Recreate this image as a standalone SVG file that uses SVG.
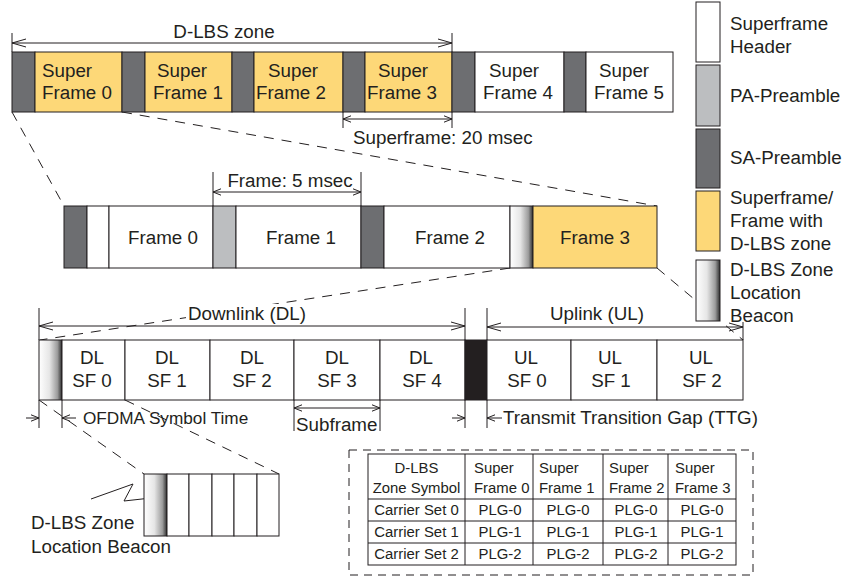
<svg xmlns="http://www.w3.org/2000/svg" width="846" height="579" viewBox="0 0 846 579">
<defs>
<linearGradient id="beacon" x1="0" y1="0" x2="1" y2="0">
<stop offset="0" stop-color="#ffffff"/>
<stop offset="0.45" stop-color="#e6e6e6"/>
<stop offset="0.8" stop-color="#9c9c9c"/>
<stop offset="1" stop-color="#2e2e2e"/>
</linearGradient>
<marker id="ah" markerWidth="16" markerHeight="10" refX="15" refY="5" orient="auto-start-reverse" markerUnits="userSpaceOnUse"><path d="M1,1 L15,5 L1,9" fill="none" stroke="#231F20" stroke-width="1"/></marker>
<marker id="as" markerWidth="10" markerHeight="8" refX="9" refY="4" orient="auto-start-reverse" markerUnits="userSpaceOnUse"><path d="M1,0.8 L9,4 L1,7.2" fill="none" stroke="#231F20" stroke-width="1"/></marker>
</defs>
<style>
.t{font-family:"Liberation Sans",Arial,Helvetica,sans-serif;font-size:18.8px;fill:#231F20}
.c{text-anchor:middle}
.tb{font-size:14.9px}
.s{stroke:#231F20;stroke-width:1}
.y{fill:#FDD878}
.d{fill:#6D6E71}
.g{fill:#BCBEC0}
.w{fill:#ffffff}
.k{fill:#231F20}
.b{fill:url(#beacon)}
.dash{stroke:#231F20;stroke-width:1;stroke-dasharray:10 8;fill:none}
.ln{stroke:#231F20;stroke-width:1;fill:none}
.big{marker-start:url(#ah);marker-end:url(#ah)}
.sm2{marker-start:url(#as);marker-end:url(#as)}
.sme{marker-end:url(#as)}
.box{fill:none;stroke:#231F20;stroke-width:1;stroke-dasharray:8 6}
</style>

<g id="connectors">
<line class="dash" x1="12" y1="112" x2="64" y2="206"/>
<line class="dash" x1="122" y1="112" x2="657" y2="206"/>
<line class="dash" x1="510" y1="268" x2="40" y2="340"/>
<line class="dash" x1="657" y1="268" x2="743" y2="340"/>
<line class="dash" x1="39" y1="400" x2="144" y2="474"/>
<line class="dash" x1="125" y1="400" x2="279" y2="474"/>
<polyline class="ln" points="91,499 133,484 124,501 160,497"/>
</g>

<g id="dimensions">
<line class="ln" x1="12" y1="33" x2="12" y2="52"/>
<line class="ln" x1="452" y1="33" x2="452" y2="52"/>
<line class="ln big" x1="12" y1="43" x2="452" y2="43"/>
<text class="t c" x="224" y="38">D-LBS zone</text>
<line class="ln" x1="343" y1="112" x2="343" y2="128"/>
<line class="ln" x1="452" y1="112" x2="452" y2="128"/>
<line class="ln sm2" x1="343" y1="119" x2="452" y2="119"/>
<text class="t" x="353" y="144">Superframe: 20 msec</text>
<line class="ln" x1="213" y1="172" x2="213" y2="206"/>
<line class="ln" x1="361" y1="172" x2="361" y2="206"/>
<line class="ln sm2" x1="213" y1="192" x2="361" y2="192"/>
<text class="t c" x="290" y="187">Frame: 5 msec</text>
<line class="ln" x1="39" y1="308" x2="39" y2="340"/>
<line class="ln" x1="465" y1="308" x2="465" y2="340"/>
<rect x="186" y="304" width="122" height="20" fill="#ffffff"/>
<line class="ln big" x1="39" y1="326" x2="465" y2="326"/>
<text class="t c" x="247" y="320">Downlink (DL)</text>
<line class="ln" x1="487" y1="308" x2="487" y2="340"/>
<line class="ln" x1="743" y1="322" x2="743" y2="340"/>
<line class="ln big" x1="487" y1="327" x2="743" y2="327"/>
<text class="t c" x="597" y="320">Uplink (UL)</text>
<line class="ln" x1="39" y1="400" x2="39" y2="428"/>
<line class="ln" x1="62" y1="400" x2="62" y2="428"/>
<line class="ln sme" x1="26" y1="418" x2="39" y2="418"/>
<line class="ln sme" x1="76" y1="418" x2="62" y2="418"/>
<text class="t" x="83" y="424" style="font-size:17.2px">OFDMA Symbol Time</text>
<line class="ln" x1="294" y1="400" x2="294" y2="431"/>
<line class="ln" x1="380" y1="400" x2="380" y2="431"/>
<line class="ln sm2" x1="294" y1="408" x2="380" y2="408"/>
<text class="t" x="296" y="431">Subframe</text>
<line class="ln" x1="465" y1="400" x2="465" y2="428"/>
<line class="ln" x1="487" y1="400" x2="487" y2="428"/>
<line class="ln sme" x1="452" y1="418" x2="465" y2="418"/>
<line class="ln sme" x1="502" y1="418" x2="487" y2="418"/>
<text class="t" x="503" y="424">Transmit Transition Gap (TTG)</text>
</g>

<g id="superframe-row">
<rect class="s d" x="12" y="52" width="23" height="60"/>
<rect class="s y" x="35" y="52" width="87" height="60"/>
<rect class="s d" x="122" y="52" width="23" height="60"/>
<rect class="s y" x="145" y="52" width="87" height="60"/>
<rect class="s d" x="232" y="52" width="22" height="60"/>
<rect class="s y" x="254" y="52" width="89" height="60"/>
<rect class="s d" x="343" y="52" width="22" height="60"/>
<rect class="s y" x="365" y="52" width="87" height="60"/>
<rect class="s d" x="452" y="52" width="23" height="60"/>
<rect class="s w" x="475" y="52" width="89" height="60"/>
<rect class="s d" x="564" y="52" width="22" height="60"/>
<rect class="s w" x="586" y="52" width="87" height="60"/>
<text class="t" x="42" y="77">Super</text><text class="t" x="42" y="99">Frame 0</text>
<text class="t" x="157" y="77">Super</text><text class="t" x="153" y="99">Frame 1</text>
<text class="t" x="268" y="77">Super</text><text class="t" x="256" y="99">Frame 2</text>
<text class="t" x="378" y="77">Super</text><text class="t" x="367" y="99">Frame 3</text>
<text class="t" x="489" y="77">Super</text><text class="t" x="483" y="99">Frame 4</text>
<text class="t" x="599" y="77">Super</text><text class="t" x="594" y="99">Frame 5</text>
</g>

<g id="frame-row">
<rect class="s d" x="64" y="206" width="23" height="62"/>
<rect class="s w" x="87" y="206" width="22" height="62"/>
<rect class="s w" x="109" y="206" width="104" height="62"/>
<rect class="s g" x="213" y="206" width="23" height="62"/>
<rect class="s w" x="236" y="206" width="125" height="62"/>
<rect class="s d" x="361" y="206" width="23" height="62"/>
<rect class="s w" x="384" y="206" width="126" height="62"/>
<rect class="s b" x="510" y="206" width="23" height="62"/>
<rect class="s y" x="533" y="206" width="124" height="62"/>
<text class="t c" x="163" y="244">Frame 0</text>
<text class="t c" x="301" y="244">Frame 1</text>
<text class="t c" x="450" y="244">Frame 2</text>
<text class="t c" x="595" y="244">Frame 3</text>
</g>

<g id="subframe-row">
<rect class="s b" x="39" y="340" width="23" height="60"/>
<rect class="s w" x="62" y="340" width="63" height="60"/>
<rect class="s w" x="125" y="340" width="85" height="60"/>
<rect class="s w" x="210" y="340" width="84" height="60"/>
<rect class="s w" x="294" y="340" width="86" height="60"/>
<rect class="s w" x="380" y="340" width="85" height="60"/>
<rect class="s k" x="465" y="340" width="22" height="60"/>
<rect class="s w" x="487" y="340" width="84" height="60"/>
<rect class="s w" x="571" y="340" width="86" height="60"/>
<rect class="s w" x="657" y="340" width="86" height="60"/>
<text class="t c" x="92" y="364">DL</text><text class="t c" x="92" y="387">SF 0</text>
<text class="t c" x="167" y="364">DL</text><text class="t c" x="167" y="387">SF 1</text>
<text class="t c" x="252" y="364">DL</text><text class="t c" x="252" y="387">SF 2</text>
<text class="t c" x="337" y="364">DL</text><text class="t c" x="337" y="387">SF 3</text>
<text class="t c" x="421" y="364">DL</text><text class="t c" x="422" y="387">SF 4</text>
<text class="t c" x="526" y="364">UL</text><text class="t c" x="527" y="387">SF 0</text>
<text class="t c" x="610" y="364">UL</text><text class="t c" x="611" y="387">SF 1</text>
<text class="t c" x="701" y="364">UL</text><text class="t c" x="702" y="387">SF 2</text>
</g>

<g id="symbol-row">
<rect class="s b" x="144" y="474" width="23" height="62"/>
<rect class="s w" x="167" y="474" width="22" height="62"/>
<rect class="s w" x="189" y="474" width="23" height="62"/>
<rect class="s w" x="212" y="474" width="22" height="62"/>
<rect class="s w" x="234" y="474" width="23" height="62"/>
<rect class="s w" x="257" y="474" width="22" height="62"/>
<text class="t" x="31" y="529">D-LBS Zone</text>
<text class="t" x="31" y="553">Location Beacon</text>
</g>

<g id="legend">
<rect class="s w" x="696" y="2" width="24" height="60"/>
<rect class="s g" x="696" y="65" width="24" height="61"/>
<rect class="s d" x="696" y="129" width="24" height="59"/>
<rect class="s y" x="696" y="191" width="24" height="60"/>
<rect class="s b" x="696" y="260" width="24" height="61"/>
<text class="t" x="730" y="30">Superframe</text>
<text class="t" x="730" y="53">Header</text>
<text class="t" x="730" y="102">PA-Preamble</text>
<text class="t" x="730" y="164">SA-Preamble</text>
<text class="t" x="730" y="204">Superframe/</text>
<text class="t" x="730" y="227">Frame with</text>
<text class="t" x="730" y="250">D-LBS zone</text>
<text class="t" x="730" y="276">D-LBS Zone</text>
<text class="t" x="730" y="299">Location</text>
<text class="t" x="730" y="322">Beacon</text>
</g>

<g id="plg-table">
<rect class="box" x="349" y="450" width="404" height="125"/>
<rect class="ln" x="368" y="454" width="368" height="111"/>
<line class="ln" x1="465" y1="454" x2="465" y2="565"/>
<line class="ln" x1="533" y1="454" x2="533" y2="565"/>
<line class="ln" x1="603" y1="454" x2="603" y2="565"/>
<line class="ln" x1="668" y1="454" x2="668" y2="565"/>
<line class="ln" x1="368" y1="499" x2="736" y2="499"/>
<line class="ln" x1="368" y1="521" x2="736" y2="521"/>
<line class="ln" x1="368" y1="543" x2="736" y2="543"/>
<text class="t tb c" x="416.5" y="473">D-LBS</text>
<text class="t tb c" x="416.5" y="493">Zone Symbol</text>
<text class="t tb" x="474" y="473">Super</text><text class="t tb" x="474" y="493">Frame 0</text>
<text class="t tb" x="539" y="473">Super</text><text class="t tb" x="539" y="493">Frame 1</text>
<text class="t tb" x="609" y="473">Super</text><text class="t tb" x="609" y="493">Frame 2</text>
<text class="t tb" x="675" y="473">Super</text><text class="t tb" x="675" y="493">Frame 3</text>
<text class="t tb c" x="416.5" y="515">Carrier Set 0</text>
<text class="t tb c" x="416.5" y="537">Carrier Set 1</text>
<text class="t tb c" x="416.5" y="559">Carrier Set 2</text>
<text class="t tb c" x="500" y="515">PLG-0</text><text class="t tb c" x="568" y="515">PLG-0</text><text class="t tb c" x="636" y="515">PLG-0</text><text class="t tb c" x="702" y="515">PLG-0</text>
<text class="t tb c" x="500" y="537">PLG-1</text><text class="t tb c" x="568" y="537">PLG-1</text><text class="t tb c" x="636" y="537">PLG-1</text><text class="t tb c" x="702" y="537">PLG-1</text>
<text class="t tb c" x="500" y="559">PLG-2</text><text class="t tb c" x="568" y="559">PLG-2</text><text class="t tb c" x="636" y="559">PLG-2</text><text class="t tb c" x="702" y="559">PLG-2</text>
</g>
</svg>
